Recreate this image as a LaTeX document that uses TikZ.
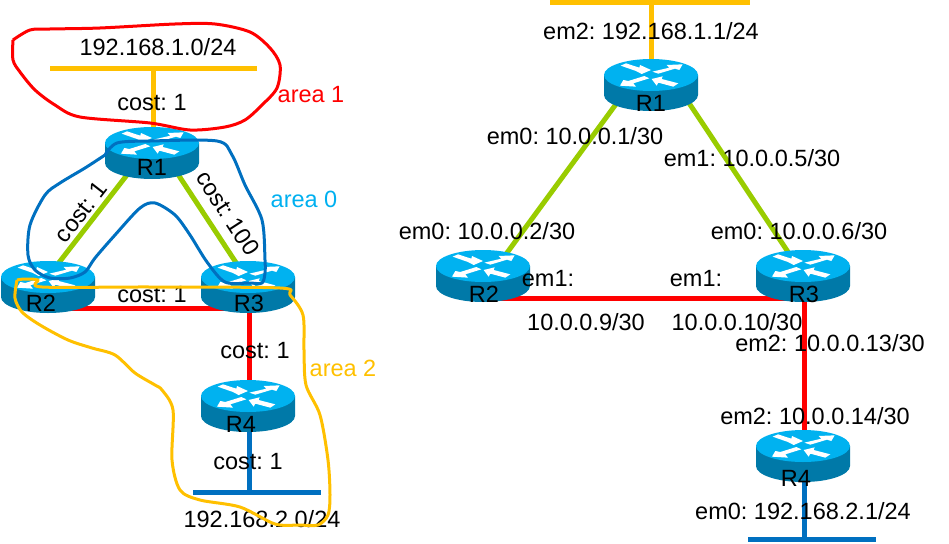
\documentclass[tikz,border=0pt]{standalone}
\usepackage{fontspec}
\setmainfont{Liberation Sans}
\usetikzlibrary{backgrounds}
\definecolor{rtop}{HTML}{00B2F0}
\definecolor{rside}{HTML}{0079A8}
\definecolor{gold}{HTML}{FFC000}
\definecolor{lime}{HTML}{99CC00}
\definecolor{wan}{HTML}{FF0000}
\definecolor{lan}{HTML}{0070C0}
\definecolor{sky}{HTML}{00B0F0}
\tikzset{
  txt/.style={font=\fontsize{23.5}{24}\selectfont,inner sep=0pt,text=black},
  rlabel/.style={txt},
  link/.style={line width=5pt},
  loop/.style={line width=3pt,line join=round,smooth,tension=0.5},
}
% name, label, x, y (centre of the top disc), label dx, label dy
\newcommand{\routerb}[6]{%
  \begin{scope}[shift={(#3,#4)}]
    \fill[rside] (-47,0) -- (-47,20) arc[start angle=180,end angle=0,x radius=47,y radius=16] -- (47,0) -- cycle;
    \fill[rtop] (0,0) ellipse[x radius=47,y radius=16];
    \begin{scope}[shift={(-51,-20)},x=0.3333pt,y=-0.3333pt]
      \fill[white] (62,32)--(78,25)--(118,38)--(120,30)--(153,45)--(125,57)--(108,48)--cycle;
      \fill[white] (157,50)--(208,38)--(200,30)--(248,28)--(238,45)--(225,41)--(175,56)--cycle;
      \fill[white] (133,63)--(148,70)--(100,85)--(108,95)--(60,92)--(70,75)--(85,78)--cycle;
      \fill[white] (155,72)--(188,64)--(185,72)--(235,85)--(220,95)--(175,83)--(170,92)--cycle;
    \end{scope}
    \node[minimum width=94pt,minimum height=52pt,inner sep=0pt] (#1) at (0,10) {};
    \node[rlabel] (#1lab) at (#5,#6) {#2};
  \end{scope}}
\begin{document}
\frenchspacing
\begin{tikzpicture}[x=1pt,y=-1pt]
\useasboundingbox (0,0) rectangle (949,543);
% ---------- routers, left
\routerb{aR1}{R1}{152}{143}{0}{24}
\routerb{aR2}{R2}{48}{277}{-7}{26}
\routerb{aR3}{R3}{248}{277}{1}{26}
\routerb{aR4}{R4}{248}{396}{-7}{28}
% ---------- routers, right
\routerb{bR1}{R1}{651}{75}{0}{28}
\routerb{bR2}{R2}{483}{266}{1}{28}
\routerb{bR3}{R3}{803}{266}{1}{28}
\routerb{bR4}{R4}{803}{446}{-7}{32}
% ---------- buses
\coordinate (aTopW) at (50,68);
\coordinate (aTopE) at (257,68);
\coordinate (aTopM) at (153,68);
\coordinate (aBotW) at (193,492);
\coordinate (aBotE) at (321,492);
\coordinate (aBotM) at (249,492);
\coordinate (bTopW) at (550,3);
\coordinate (bTopE) at (750,3);
\coordinate (bTopM) at (651,3);
\coordinate (bBotW) at (748,539);
\coordinate (bBotE) at (876,539);
\coordinate (bBotM) at (804,539);
\begin{scope}[on background layer]
  \draw[link,gold] (aTopW) -- (aTopE);
  \draw[link,gold] (aTopM) -- ([xshift=1pt]aR1.center);
  \draw[link,lime] ([xshift=-8pt]aR1.center) -- ([xshift=-8pt]aR2.center);
  \draw[link,lime] ([xshift=12pt]aR1.center) -- ([xshift=4pt]aR3.center);
  \draw[link,wan] ([yshift=-21pt]aR2.center) -- ([yshift=-21pt]aR3.center);
  \draw[link,wan] ([xshift=1pt]aR3.center) -- ([xshift=1pt]aR4.center);
  \draw[link,lan] (aBotW) -- (aBotE);
  \draw[link,lan] (aBotM) -- ([xshift=1pt]aR4.center);
  \draw[link,gold] (bTopW) -- (bTopE);
  \draw[link,gold] (bTopM) -- (bR1.center);
  \draw[link,lime] ([xshift=-21pt]bR1.center) -- ([xshift=7pt]bR2.center);
  \draw[link,lime] ([xshift=26pt]bR1.center) -- ([xshift=1pt]bR3.center);
  \draw[link,wan] ([yshift=-22pt]bR2.center) -- ([yshift=-22pt]bR3.center);
  \draw[link,wan] ([xshift=1pt]bR3.center) -- ([xshift=1pt]bR4.center);
  \draw[link,lan] (bBotW) -- (bBotE);
  \draw[link,lan] (bBotM) -- ([xshift=1pt]bR4.center);
\end{scope}
% ---------- left labels
\node[txt] (n1) at (158,47) {192.168.1.0/24};
\node[txt] (n2) at (152,103) {cost: 1};
\node[txt,text=wan] (n3) at (311,95) {area 1};
\node[txt,text=sky] (n4) at (304,199) {area 0};
\node[txt,text=gold] (n5) at (343,368) {area 2};
\node[txt,rotate=52] (n6) at (81,212) {cost: 1};
\node[txt,rotate=-57] (n7) at (228,213) {cost: 100};
\node[txt] (n8) at (152,295) {cost: 1};
\node[txt] (n9) at (255,351) {cost: 1};
\node[txt] (n10) at (248,462) {cost: 1};
\node[txt] (n11) at (262,519) {192.168.2.0/24};
% ---------- right labels
\node[txt] (m1) at (651,31) {em2: 192.168.1.1/24};
\node[txt] (m2) at (575,136) {em0: 10.0.0.1/30};
\node[txt] (m3) at (752,158) {em1: 10.0.0.5/30};
\node[txt] (m4) at (487,231) {em0: 10.0.0.2/30};
\node[txt] (m5) at (799,231) {em0: 10.0.0.6/30};
\node[txt] (m6) at (548,279) {em1:};
\node[txt] (m7) at (586,322) {10.0.0.9/30};
\node[txt] (m8) at (696,279) {em1:};
\node[txt] (m9) at (737,322) {10.0.0.10/30};
\node[txt] (m10) at (830,343) {em2: 10.0.0.13/30};
\node[txt] (m11) at (815,416) {em2: 10.0.0.14/30};
\node[txt] (m12) at (803,511) {em0: 192.168.2.1/24};
% ---------- area outlines
\draw[loop,wan] plot coordinates {(13,40)(30,30)(50,29)(100,28)(175,24)(215,24)(250,32)(270,48)(280,65)(277,88)(262,105)(245,120)(225,127)(190,130)(150,123)(80,117)(55,105)(35,90)(20,72)(13,60)(13,40)};
\draw[loop,lan] plot coordinates {(105,155)(117,143)(150,141)(217,141)(232,155)(245,185)(262,220)(265,260)(265,273)(262,283)(250,283)(225,282)(207,262)(190,235)(175,215)(155,203)(140,208)(115,235)(95,258)(85,272)(70,278)(50,278)(35,270)(28,255)(30,225)(45,195)(60,183)(85,168)(105,155)};
\draw[loop,gold] plot coordinates {(17,280)(25,279)(38,280)(42,287)(150,287)(280,288)(290,295)(303,315)(304,350)(306,385)(320,415)(328,460)(330,495)(328,515)(318,525)(300,525)(275,524)(240,507)(200,500)(180,490)(172,460)(173,410)(162,390)(155,385)(135,373)(115,355)(92,348)(68,340)(40,325)(22,312)(15,298)(17,280)};
\end{tikzpicture}
\end{document}
